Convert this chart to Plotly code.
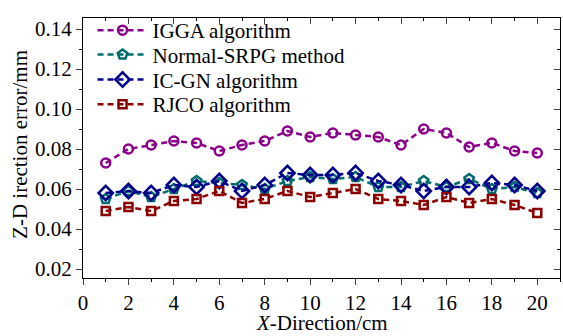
import plotly.graph_objects as go

x = list(range(1, 21))
igga = [0.073, 0.080, 0.082, 0.084, 0.083, 0.079, 0.082, 0.084, 0.089, 0.086,
        0.088, 0.087, 0.086, 0.082, 0.090, 0.088, 0.081, 0.083, 0.079, 0.078]
srpg = [0.055, 0.059, 0.056, 0.060, 0.064, 0.063, 0.062, 0.060, 0.064, 0.066,
        0.065, 0.066, 0.061, 0.061, 0.064, 0.061, 0.065, 0.060, 0.061, 0.058]
icgn = [0.058, 0.059, 0.058, 0.062, 0.061, 0.064, 0.059, 0.062, 0.068, 0.067,
        0.067, 0.068, 0.064, 0.062, 0.059, 0.061, 0.061, 0.063, 0.062, 0.059]
rjco = [0.049, 0.051, 0.049, 0.054, 0.055, 0.059, 0.053, 0.055, 0.059, 0.056,
        0.058, 0.060, 0.055, 0.054, 0.052, 0.056, 0.053, 0.055, 0.052, 0.048]

series = [
    ("IGGA algorithm", igga, "#8b008b", "circle-open", 9),
    ("Normal-SRPG method", srpg, "#006b6b", "pentagon-open", 10),
    ("IC-GN algorithm", icgn, "#00008b", "diamond-open", 11),
    ("RJCO algorithm", rjco, "#8b0000", "square-open", 8),
]

FAM = "Times New Roman"
FS = 21
legend_ids = ["legend", "legend2", "legend3", "legend4"]
legend_y = [0.952, 0.858, 0.762, 0.667]

fig = go.Figure()
for (name, ys, col, sym, sz), lid in zip(series, legend_ids):
    fig.add_trace(go.Scatter(
        x=x, y=ys, name=name, mode="lines+markers", legend=lid,
        line=dict(color=col, width=2.5, dash="6px,4px"),
        marker=dict(symbol=sym, size=sz, color=col, line=dict(width=2.5, color=col)),
    ))
fig.add_trace(go.Scatter(x=[0], y=[0.02], xaxis="x2", yaxis="y2", mode="markers",
                         marker=dict(opacity=0), showlegend=False, hoverinfo="skip"))

xr = [0, 21]
yr = [0.0155, 0.1455]
legends = {}
for lid, ly in zip(legend_ids, legend_y):
    legends[lid] = dict(x=0.02, y=ly, xanchor="left", yanchor="middle",
                        bgcolor="rgba(0,0,0,0)", font=dict(family=FAM, size=FS, color="black"),
                        itemwidth=50)
fig.update_layout(
    width=563, height=336,
    margin=dict(l=83, r=3, t=18, b=58, autoexpand=False),
    paper_bgcolor="white", plot_bgcolor="white",
    font_family=FAM, font_size=FS, font_color="black",
    showlegend=True,
    **legends,
    xaxis=dict(range=xr, dtick=2, tick0=0, ticks="outside", ticklen=6, tickwidth=1,
               showline=True, linecolor="black", linewidth=1, showgrid=False, zeroline=False,
               tickfont_family=FAM, tickfont_size=FS, automargin=False,
               minor=dict(dtick=1, ticks="outside", ticklen=3, tickcolor="black")),
    yaxis=dict(range=yr, dtick=0.02, tick0=0, tickformat=".2f", ticks="outside", ticklen=6,
               tickwidth=1, showline=True, linecolor="black", linewidth=1, showgrid=False,
               zeroline=False, tickfont_family=FAM, tickfont_size=FS, automargin=False,
               minor=dict(dtick=0.01, ticks="outside", ticklen=3, tickcolor="black")),
    xaxis2=dict(range=xr, overlaying="x", side="top", dtick=2, tick0=0, ticks="inside",
                ticklen=6, showticklabels=False, showline=True, linecolor="black",
                showgrid=False, zeroline=False, automargin=False,
                minor=dict(dtick=1, ticks="inside", ticklen=3, tickcolor="black")),
    yaxis2=dict(range=yr, overlaying="y", side="right", dtick=0.02, tick0=0, ticks="inside",
                ticklen=6, showticklabels=False, showline=True, linecolor="black",
                showgrid=False, zeroline=False, automargin=False,
                minor=dict(dtick=0.01, ticks="inside", ticklen=3, tickcolor="black")),
)
fig.add_annotation(text="<i>X</i>-Direction/cm", xref="paper", yref="paper",
                   x=0.5, y=-0.173, xanchor="center", yanchor="middle", showarrow=False,
                   font=dict(family=FAM, size=FS, color="black"))
fig.add_annotation(text="Z-D irection error/mm", xref="paper", yref="paper",
                   x=-0.132, y=0.512, xanchor="center", yanchor="middle", showarrow=False,
                   textangle=-90, font=dict(family=FAM, size=FS, color="black"))
fig.write_html("out.html")
